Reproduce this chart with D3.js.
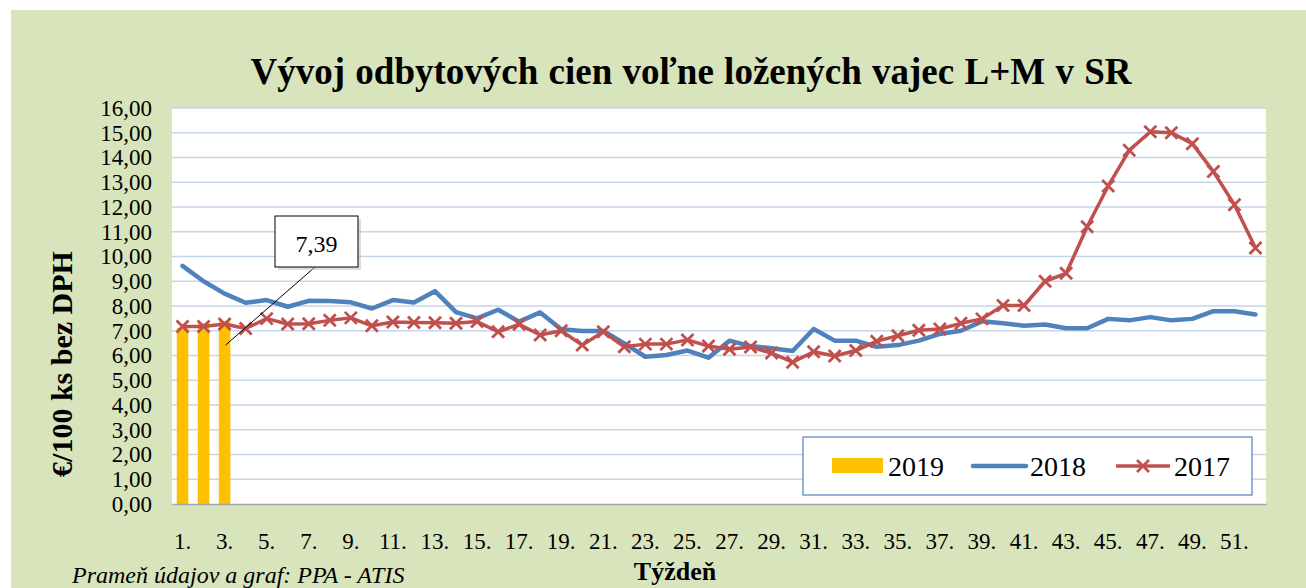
<!DOCTYPE html>
<html>
<head>
<meta charset="utf-8">
<script src="https://cdn.jsdelivr.net/npm/d3@7"></script>
<style>
  body { margin: 0; background: #fff; }
  svg text { font-family: "Liberation Serif", "Times New Roman", serif; fill: #000; }
</style>
</head>
<body>
<svg id="chart" width="1306" height="588"></svg>
<script>
// weeks 1..52
var weeks = d3.range(1, 53)
var weekLabels = weeks.filter(function(w) { return w % 2 == 1 })
var yTicks = d3.range(0, 17)

var values2019 = [7.12, 7.30, 7.39]

var values2018 = [9.62, 9.00, 8.50, 8.13, 8.24, 7.97, 8.21, 8.20, 8.15, 7.90,
                  8.24, 8.14, 8.60, 7.75, 7.50, 7.85, 7.37, 7.74, 7.06, 6.99,
                  6.99, 6.49, 5.95, 6.02, 6.20, 5.91, 6.60, 6.38, 6.29, 6.18,
                  7.07, 6.60, 6.60, 6.35, 6.42, 6.60, 6.87, 7.00, 7.38, 7.30,
                  7.20, 7.25, 7.10, 7.10, 7.48, 7.42, 7.55, 7.42, 7.48, 7.79,
                  7.79, 7.66]

var values2017 = [7.17, 7.17, 7.27, 7.09, 7.49, 7.27, 7.28, 7.42, 7.52, 7.20,
                  7.35, 7.33, 7.32, 7.30, 7.37, 6.96, 7.26, 6.83, 7.00, 6.42,
                  6.96, 6.35, 6.46, 6.46, 6.63, 6.38, 6.25, 6.34, 6.10, 5.73,
                  6.15, 5.98, 6.20, 6.58, 6.80, 7.02, 7.07, 7.30, 7.48, 8.02,
                  8.02, 9.00, 9.32, 11.20, 12.85, 14.29, 15.04, 15.00, 14.56, 13.43,
                  12.09, 10.34]

var calloutText = "7,39"

var svg = d3.select("#chart")
var plotLeft = 172, plotRight = 1266, plotTop = 108, plotBottom = 504

// background panel
svg.append("rect").attr("x", 11).attr("y", 10).attr("width", 1295).attr("height", 578)
    .attr("fill", "#d8e4bc")
svg.append("rect").attr("x", plotLeft).attr("y", plotTop)
    .attr("width", plotRight - plotLeft).attr("height", plotBottom - plotTop)
    .attr("fill", "#fff")

var x = d3.scaleBand().domain(weeks).range([plotLeft, plotRight])
var y = d3.scaleLinear().domain([0, 16]).range([plotBottom, plotTop])
var cx = function(w) { return x(w) + x.bandwidth() / 2 }

// gridlines
svg.append("g").selectAll("line").data(yTicks.slice(1)).join("line")
    .attr("x1", plotLeft).attr("x2", plotRight)
    .attr("y1", function(d) { return y(d) }).attr("y2", function(d) { return y(d) })
    .attr("stroke", "#c5d5ea").attr("stroke-width", 1.3)

// y axis
var yAxis = svg.append("g").attr("transform", "translate(" + plotLeft + ",0)")
    .call(d3.axisLeft(y).tickValues(yTicks).tickSize(0).tickPadding(20)
        .tickFormat(function(d) { return d.toFixed(2).replace(".", ",") }))
yAxis.select(".domain").remove()
yAxis.attr("font-family", null).attr("font-size", null)
yAxis.selectAll("text").style("font-size", "23px")

// bars 2019
var barW = x.bandwidth() * 0.55
svg.append("g").selectAll("rect").data(values2019).join("rect")
    .attr("x", function(d, i) { return cx(weeks[i]) - barW / 2 })
    .attr("y", function(d) { return y(d) })
    .attr("width", barW)
    .attr("height", function(d) { return y(0) - y(d) })
    .attr("fill", "#ffc000")

// x axis
var xAxis = svg.append("g").attr("transform", "translate(0," + plotBottom + ")")
    .call(d3.axisBottom(x).tickValues(weekLabels).tickSize(0).tickPadding(29)
        .tickFormat(function(d) { return d + "." }))
xAxis.select(".domain").attr("stroke", "#a6a6a6").attr("stroke-width", 1.5)
xAxis.attr("font-family", null).attr("font-size", null)
xAxis.selectAll("text").style("font-size", "23px")

// 2018 line
var line = d3.line()
    .x(function(d, i) { return cx(weeks[i]) })
    .y(function(d) { return y(d) })

svg.append("path").datum(values2018).attr("d", line)
    .attr("fill", "none").attr("stroke", "#4f81bd").attr("stroke-width", 4.5)
    .attr("stroke-linejoin", "round").attr("stroke-linecap", "round")

// 2017 line with x markers
svg.append("path").datum(values2017).attr("d", line)
    .attr("fill", "none").attr("stroke", "#c0504d").attr("stroke-width", 3.5)
    .attr("stroke-linejoin", "round")

var cross = function(s) {
    return "M" + (-s) + "," + (-s) + "L" + s + "," + s + "M" + (-s) + "," + s + "L" + s + "," + (-s)
}
svg.append("g").selectAll("path").data(values2017).join("path")
    .attr("transform", function(d, i) { return "translate(" + cx(weeks[i]) + "," + y(d) + ")" })
    .attr("d", cross(6))
    .attr("stroke", "#c0504d").attr("stroke-width", 2.8).attr("fill", "none")

// callout for last 2019 value
var cbx = 275, cby = 216, cbw = 83, cbh = 51
svg.append("line")
    .attr("x1", cbx + 40).attr("y1", cby + cbh)
    .attr("x2", cx(weeks[2]) + 1).attr("y2", y(values2019[2]) + 24)
    .attr("stroke", "#000").attr("stroke-width", 1)
svg.append("rect").attr("x", cbx + 3).attr("y", cby + 3).attr("width", cbw).attr("height", cbh)
    .attr("fill", "#bbb").attr("opacity", 0.5)
svg.append("rect").attr("x", cbx).attr("y", cby).attr("width", cbw).attr("height", cbh)
    .attr("fill", "#fff").attr("stroke", "#000").attr("stroke-width", 1)
svg.append("text").attr("x", cbx + cbw / 2).attr("y", cby + 36)
    .attr("text-anchor", "middle").style("font-size", "24px").text(calloutText)

// title
svg.append("text").attr("x", 691).attr("y", 84).attr("text-anchor", "middle")
    .style("font-size", "37px").style("font-weight", "bold").style("word-spacing", "1px")
    .text("Vývoj odbytových cien voľne ložených vajec L+M v SR")

// axis titles
svg.append("text").attr("transform", "translate(72,364) rotate(-90)").attr("text-anchor", "middle")
    .style("font-size", "30px").style("font-weight", "bold")
    .text("€/100 ks bez DPH")
svg.append("text").attr("x", 675).attr("y", 580).attr("text-anchor", "middle")
    .style("font-size", "26px").style("font-weight", "bold")
    .text("Týždeň")

// source
svg.append("text").attr("x", 72).attr("y", 583)
    .style("font-size", "24px").style("font-style", "italic")
    .text("Prameň údajov a graf: PPA - ATIS")

// legend
var legend = svg.append("g")
legend.append("rect").attr("x", 803).attr("y", 437).attr("width", 449).attr("height", 58)
    .attr("fill", "#fff").attr("stroke", "#4f81bd").attr("stroke-width", 1.2)
legend.append("rect").attr("x", 832).attr("y", 458).attr("width", 51).attr("height", 15).attr("fill", "#ffc000")
legend.append("text").attr("x", 888).attr("y", 476).style("font-size", "28px").text("2019")
legend.append("line").attr("x1", 973).attr("x2", 1026).attr("y1", 466).attr("y2", 466)
    .attr("stroke", "#4f81bd").attr("stroke-width", 4.5).attr("stroke-linecap", "round")
legend.append("text").attr("x", 1030).attr("y", 476).style("font-size", "28px").text("2018")
legend.append("line").attr("x1", 1116).attr("x2", 1170).attr("y1", 466).attr("y2", 466)
    .attr("stroke", "#c0504d").attr("stroke-width", 3.5)
legend.append("path").attr("transform", "translate(1143,466)").attr("d", cross(6))
    .attr("stroke", "#c0504d").attr("stroke-width", 2.8)
legend.append("text").attr("x", 1174).attr("y", 476).style("font-size", "28px").text("2017")
</script>
</body>
</html>
